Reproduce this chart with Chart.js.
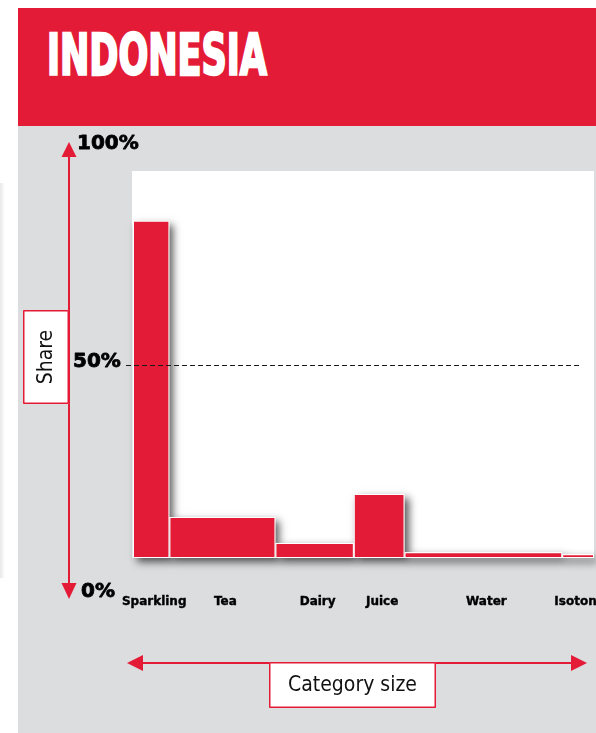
<!DOCTYPE html>
<html>
<head>
<meta charset="utf-8">
<title>Indonesia</title>
<script src="https://cdn.jsdelivr.net/npm/chart.js@4.4.1/dist/chart.umd.min.js"></script>
<style>
html, body { margin: 0; padding: 0; background: #fff; width: 596px; height: 733px; overflow: hidden; }
body { position: relative; font-family: 'DejaVu Sans', sans-serif; }
#edge { position: absolute; left: 0; top: 183px; width: 5px; height: 395px; background: linear-gradient(to right, #e8e8e8, #fff); }
#header { position: absolute; left: 18px; top: 8px; width: 578px; height: 118px; background: #e31b36; overflow: hidden; }
#header h1 { position: absolute; left: 29px; top: 19px; margin: 0; color: #fff; font: bold 57px/57px 'DejaVu Sans Condensed', 'DejaVu Sans', sans-serif; white-space: nowrap; transform-origin: 0 0; -webkit-text-stroke: 2.4px #fff; }
#panel { position: absolute; left: 18px; top: 126px; width: 578px; height: 607px; background: #dcdddf; }
#panel canvas { position: absolute; left: 0; top: 0; }
</style>
</head>
<body>
<div id="edge"></div>
<div id="header"><h1 id="title">INDONESIA</h1></div>
<div id="panel"><canvas id="mekko" width="578" height="607"></canvas></div>
<script>
const categories = ['Sparkling', 'Tea', 'Dairy', 'Juice', 'Water', 'Isotonic'];
// column widths: each category's size as % of the total
const categorySize = [7.9, 23.0, 17.0, 11.0, 34.2, 6.9];
// column heights: share, %
const share = [87.4, 10.6, 3.9, 16.6, 1.5, 1.0];
const shareTicks = ['0%', '50%', '100%'];

const RED = '#e31b36';

// squeeze the title into its condensed width
(function fitTitle() {
	const h = document.getElementById('title');
	h.style.transform = 'scaleX(' + (220 / h.offsetWidth) + ')';
})();

const starts = [];
categorySize.reduce((acc, w, i) => { starts[i] = acc; return acc + w; }, 0);
const totalSize = categorySize.reduce((a, b) => a + b, 0);

// bars sit at the middle of their column; widths are fixed up by the plugin below
const points = categories.map((c, i) => ({ x: starts[i] + categorySize[i] / 2, y: share[i] }));

function arrowHead(ctx, tipX, tipY, dx, dy, len, half) {
	// dx,dy: unit direction the arrow points to
	ctx.beginPath();
	ctx.moveTo(tipX, tipY);
	ctx.lineTo(tipX - dx * len - dy * half, tipY - dy * len + dx * half);
	ctx.lineTo(tipX - dx * len + dy * half, tipY - dy * len - dx * half);
	ctx.closePath();
	ctx.fill();
}

// filled text with a thin outline of the same colour, for the heavy labels
function heavyText(ctx, text, x, y, w) {
	ctx.lineWidth = w;
	ctx.lineJoin = 'round';
	ctx.strokeStyle = ctx.fillStyle;
	ctx.strokeText(text, x, y);
	ctx.fillText(text, x, y);
}

const mekkoPlugin = {
	id: 'mekko',
	afterDatasetsUpdate(chart) {
		const xs = chart.scales.x;
		chart.getDatasetMeta(0).data.forEach((bar, i) => {
			const l = xs.getPixelForValue(starts[i]);
			const r = xs.getPixelForValue(starts[i] + categorySize[i]);
			bar.x = (l + r) / 2;
			bar.width = r - l;
		});
	},
	beforeDatasetsDraw(chart) {
		const { ctx, chartArea: a } = chart;
		ctx.save();
		ctx.fillStyle = '#fff';
		ctx.fillRect(a.left - 1, a.top - 1, a.right - a.left + 1, a.bottom - a.top + 1);
		// drop shadows under the columns
		ctx.shadowColor = 'rgba(0,0,0,0.65)';
		ctx.shadowBlur = 8;
		ctx.shadowOffsetX = 4;
		ctx.shadowOffsetY = 4;
		chart.getDatasetMeta(0).data.forEach((bar) => {
			const p = bar.getProps(['x', 'y', 'base', 'width'], true);
			ctx.fillRect(p.x - p.width / 2, p.y, p.width, p.base - p.y);
		});
		ctx.restore();
	},
	afterDatasetsDraw(chart) {
		const { ctx, chartArea: a, scales } = chart;
		const ys = scales.y;
		const xs = scales.x;
		ctx.save();

		// 50% reference line
		const y50 = Math.round(ys.getPixelForValue(50)) + 0.5;
		ctx.strokeStyle = '#1a1a1a';
		ctx.lineWidth = 1.2;
		ctx.setLineDash([5, 3]);
		ctx.beginPath();
		ctx.moveTo(a.left - 7, y50);
		ctx.lineTo(a.right - 14, y50);
		ctx.stroke();
		ctx.setLineDash([]);

		// share axis arrow
		const ax = 51;
		const yTop = ys.getPixelForValue(100) - 30;
		const yBot = ys.getPixelForValue(0) + 41;
		ctx.strokeStyle = RED;
		ctx.fillStyle = RED;
		ctx.lineWidth = 2;
		ctx.beginPath();
		ctx.moveTo(ax, yTop + 10);
		ctx.lineTo(ax, yBot - 10);
		ctx.stroke();
		arrowHead(ctx, ax, yTop, 0, -1, 15, 7.5);
		arrowHead(ctx, ax, yBot, 0, 1, 16, 7.5);

		// tick labels
		ctx.fillStyle = '#000';
		ctx.font = 'bold 20px "DejaVu Sans", sans-serif';
		ctx.textAlign = 'left';
		ctx.textBaseline = 'alphabetic';
		heavyText(ctx, shareTicks[2], 59, yTop + 7, 0.8);
		heavyText(ctx, shareTicks[1], 55, y50 + 1, 0.8);
		heavyText(ctx, shareTicks[0], 63, yBot - 2, 0.8);

		// "Share" box
		const bx = 5, by = 184, bw = 46, bh = 94;
		ctx.fillStyle = '#fff';
		ctx.fillRect(bx, by, bw, bh);
		ctx.strokeStyle = RED;
		ctx.lineWidth = 1.5;
		ctx.strokeRect(bx + 0.75, by + 0.75, bw - 1.5, bh - 1.5);
		ctx.save();
		ctx.translate(bx + bw / 2 + 1, by + bh / 2);
		ctx.rotate(-Math.PI / 2);
		ctx.fillStyle = '#111';
		ctx.font = '21px "DejaVu Sans Condensed", "DejaVu Sans", sans-serif';
		ctx.textAlign = 'center';
		ctx.textBaseline = 'middle';
		ctx.fillText('Share', 0, 0);
		ctx.restore();

		// category labels under each column
		ctx.fillStyle = '#000';
		ctx.font = 'bold 12px "DejaVu Sans", sans-serif';
		ctx.textAlign = 'center';
		ctx.textBaseline = 'alphabetic';
		categories.forEach((c, i) => {
			const cx = xs.getPixelForValue(starts[i] + categorySize[i] / 2);
			heavyText(ctx, c, cx + 3, a.bottom + 47, 0.4);
		});

		// category size arrow
		const hy = a.bottom + 105;
		const xl = a.left - 6, xr = a.right - 7;
		ctx.strokeStyle = RED;
		ctx.fillStyle = RED;
		ctx.lineWidth = 2;
		ctx.beginPath();
		ctx.moveTo(xl + 10, hy);
		ctx.lineTo(xr - 10, hy);
		ctx.stroke();
		arrowHead(ctx, xl, hy, -1, 0, 16, 8);
		arrowHead(ctx, xr, hy, 1, 0, 16, 8);

		// "Category size" box
		const cbx = 251, cby = hy - 1, cbw = 167, cbh = 46;
		ctx.fillStyle = '#fff';
		ctx.fillRect(cbx, cby, cbw, cbh);
		ctx.lineWidth = 1.5;
		ctx.strokeRect(cbx + 0.75, cby + 0.75, cbw - 1.5, cbh - 1.5);
		ctx.fillStyle = '#111';
		ctx.font = '21px "DejaVu Sans Condensed", "DejaVu Sans", sans-serif';
		ctx.textAlign = 'center';
		ctx.textBaseline = 'middle';
		ctx.fillText('Category size', cbx + cbw / 2, cby + cbh / 2 + 1);

		ctx.restore();
	},
};

new Chart(document.getElementById('mekko'), {
	type: 'bar',
	data: {
		datasets: [
			{
				data: points,
				backgroundColor: RED,
				borderColor: '#fff',
				borderWidth: 1,
				borderSkipped: false,
				clip: false,
			},
		],
	},
	options: {
		responsive: false,
		animation: false,
		events: [],
		layout: { padding: { left: 115, right: 2, top: 46, bottom: 175 } },
		plugins: {
			legend: { display: false },
			tooltip: { enabled: false },
		},
		scales: {
			x: { type: 'linear', min: 0, max: totalSize, offset: false, display: false },
			y: { min: 0, max: 100, display: false },
		},
	},
	plugins: [mekkoPlugin],
});
</script>
</body>
</html>
